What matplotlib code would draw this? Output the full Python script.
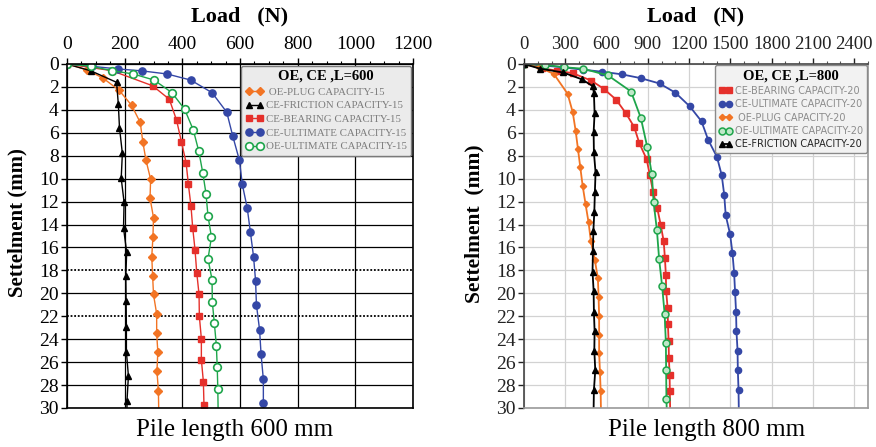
import numpy as np
import matplotlib
matplotlib.use("Agg")
import matplotlib.pyplot as plt
from matplotlib.ticker import MultipleLocator

plt.rcParams['font.family'] = ['Liberation Serif', 'DejaVu Serif']

# ---- pile length 600 mm (load in N, settlement in mm) ----
s_plug15 = [0, 0.5, 1.25, 2.3, 3.6, 5.1, 6.8, 8.4, 10.05, 11.7, 13.4, 15.1, 16.8, 18.5, 20.1, 21.8, 23.5, 25.1, 26.8, 28.5, 30]
p_plug15 = [0, 68, 126, 181, 224, 254, 263, 274, 290, 288, 300, 298, 294, 297, 300, 311, 311, 315, 312, 317, 318]

s_fric15 = [0, 0.6, 1.6, 3.5, 5.55, 7.8, 9.97, 12.06, 14.3, 16.4, 18.5, 20.7, 22.9, 25.1, 27.2, 29.4, 30]
p_fric15 = [0, 83, 172, 178, 182, 192, 188, 198, 196, 207, 204, 205, 206, 206, 213, 208, 208]

s_bear15 = [0, 0.58, 1.9, 3.08, 4.9, 6.8, 8.6, 10.5, 12.4, 14.3, 16.2, 18.2, 20.1, 22.0, 23.95, 25.8, 27.7, 29.7, 30]
p_bear15 = [0, 155, 297, 355, 380, 397, 413, 421, 430, 436, 444, 450, 458, 459, 466, 466, 473, 475, 476]

s_ceult15 = [0, 0.2, 0.43, 0.6, 0.87, 1.4, 2.5, 4.2, 6.3, 8.4, 10.5, 12.55, 14.65, 16.8, 18.9, 21.0, 23.2, 25.3, 27.5, 29.6, 30]
p_ceult15 = [0, 86, 176, 260, 347, 429, 503, 554, 575, 598, 608, 625, 636, 647, 654, 657, 668, 673, 681, 681, 681]

s_oeult15 = [0, 0.2, 0.58, 0.87, 1.4, 2.5, 3.95, 5.75, 7.6, 9.5, 11.3, 13.25, 15.1, 17.0, 18.8, 20.75, 22.6, 24.55, 26.4, 28.3, 30]
p_oeult15 = [0, 83, 155, 230, 302, 364, 408, 438, 457, 471, 482, 489, 501, 489, 503, 504, 511, 518, 521, 523, 524]

# ---- pile length 800 mm ----
s_bear20 = [0, 0.38, 0.58, 0.8, 1.45, 2.15, 3.1, 4.3, 5.5, 6.9, 8.3, 9.7, 11.2, 12.55, 14.0, 15.45, 16.9, 18.4, 19.8, 21.3, 22.7, 24.2, 25.6, 27.1, 28.5, 30]
p_bear20 = [0, 131, 241, 354, 489, 578, 669, 741, 801, 838, 891, 915, 939, 968, 993, 1015, 1024, 1031, 1033, 1044, 1046, 1051, 1053, 1058, 1060, 1062]

s_ceult20 = [0, 0.28, 0.5, 0.67, 0.9, 1.23, 1.7, 2.5, 3.7, 5.0, 6.6, 8.1, 9.7, 11.4, 13.2, 14.85, 16.5, 18.2, 19.9, 21.6, 23.3, 25.0, 26.7, 28.4, 30]
p_ceult20 = [0, 283, 427, 567, 710, 847, 985, 1100, 1205, 1290, 1338, 1402, 1437, 1455, 1466, 1498, 1515, 1527, 1534, 1541, 1544, 1552, 1554, 1559, 1561]

s_plug20 = [0, 0.3, 0.87, 2.6, 4.2, 5.8, 7.4, 9.0, 10.6, 12.2, 13.8, 15.45, 17.1, 18.7, 20.3, 22.0, 23.6, 25.2, 26.85, 28.5, 30]
p_plug20 = [0, 111, 217, 317, 354, 375, 392, 409, 426, 447, 469, 486, 515, 537, 542, 546, 546, 546, 552, 557, 559]

s_oeult20 = [0, 0.07, 0.28, 0.41, 1.0, 2.4, 4.7, 7.2, 9.6, 12.05, 14.5, 17.0, 19.4, 21.8, 24.3, 26.7, 29.2, 30]
p_oeult20 = [0, 150, 288, 429, 611, 778, 849, 895, 929, 942, 966, 982, 1004, 1022, 1031, 1033, 1035, 1037]

s_fric20 = [0, 0.41, 0.74, 1.33, 1.92, 2.5, 4.3, 5.95, 7.7, 9.45, 11.2, 12.9, 14.6, 16.35, 18.1, 19.8, 21.6, 23.3, 25.0, 26.7, 28.45, 30]
p_fric20 = [0, 117, 284, 419, 498, 508, 513, 506, 508, 520, 515, 511, 504, 501, 498, 506, 508, 513, 511, 518, 508, 506]

ORANGE = '#f27424'
RED = '#e5302b'
BLUE = '#3447a6'
GREEN = '#1ea54b'

fig = plt.figure(figsize=(8.76, 4.47), dpi=100)
ax1 = fig.add_axes([67/876, 1-408/447, 346/876, 344/447])
ax2 = fig.add_axes([524/876, 1-408/447, 344/876, 344/447])


def curve(ax, p, s, lw=1.0, **kw):
    # the 30 mm point only carries the line down to the bottom edge
    n = len(p) - 1 if s[-1] == 30 else len(p)
    return ax.plot(p, s, lw=lw, markevery=list(range(n)), **kw)[0]


# ---------------- left: L = 600 ----------------
h1 = [
    curve(ax1, p_plug15, s_plug15, color=ORANGE, marker='D', markersize=4.2, label=' OE-PLUG CAPACITY-15'),
    curve(ax1, p_fric15, s_fric15, color='black', marker='^', markersize=5, label='CE-FRICTION CAPACITY-15'),
    curve(ax1, p_bear15, s_bear15, color=RED, marker='s', markersize=5, label='CE-BEARING CAPACITY-15'),
    curve(ax1, p_ceult15, s_ceult15, color=BLUE, marker='o', markersize=5.2, label='CE-ULTIMATE CAPACITY-15'),
    curve(ax1, p_oeult15, s_oeult15, color=GREEN, marker='o', markersize=5.5, mfc='white', mew=1.2,
          label='OE-ULTIMATE CAPACITY-15'),
]

ax1.set_xlim(0, 1200)
ax1.set_ylim(30, 0)
ax1.xaxis.tick_top()
ax1.xaxis.set_major_locator(MultipleLocator(200))
ax1.xaxis.set_minor_locator(MultipleLocator(50))
ax1.yaxis.set_major_locator(MultipleLocator(2))
ax1.tick_params(axis='x', which='major', length=4, width=1, pad=4, labelsize=14)
ax1.tick_params(axis='x', which='minor', length=2.5, width=0.8)
ax1.tick_params(axis='y', length=4, width=1, pad=2, labelsize=14)
ax1.grid(True, which='major', color='black', lw=0.9)
for gl, v in zip(ax1.get_ygridlines(), ax1.get_yticks()):
    if v in (18, 22):
        gl.set_linestyle((0, (1, 1)))
        gl.set_linewidth(1.3)
ax1.set_axisbelow(True)
for sp in ax1.spines.values():
    sp.set_linewidth(1.2)

leg1 = ax1.legend(handles=h1, title='OE, CE ,L=600', loc='upper right', bbox_to_anchor=(1.0, 1.0),
                  borderaxespad=0.15, numpoints=2, handlelength=1.6, handletextpad=0.3,
                  labelspacing=0.38, fancybox=True, framealpha=1, facecolor='#ebebeb',
                  edgecolor='#7a7a7a', labelcolor='#7c7c7c', prop={'size': 7.8},
                  title_fontproperties={'size': 10.5, 'weight': 'bold'})
leg1.get_frame().set_linewidth(1.0)

# ---------------- right: L = 800 ----------------
h2 = [
    curve(ax2, p_bear20, s_bear20, color=RED, marker='s', markersize=4.2, lw=1.3, label='CE-BEARING CAPACITY-20'),
    curve(ax2, p_ceult20, s_ceult20, color=BLUE, marker='o', markersize=4.5, lw=1.3, label='CE-ULTIMATE CAPACITY-20'),
    curve(ax2, p_plug20, s_plug20, color=ORANGE, marker='D', markersize=3.2, lw=1.3, label=' OE-PLUG CAPACITY-20'),
    curve(ax2, p_oeult20, s_oeult20, color=GREEN, marker='o', markersize=5, mfc='#bfe8c8', mew=1.1, lw=1.3,
          label='OE-ULTIMATE CAPACITY-20'),
    curve(ax2, p_fric20, s_fric20, color='black', marker='^', markersize=4.2, lw=1.3, label='CE-FRICTION CAPACITY-20'),
]

ax2.set_xlim(0, 2500)
ax2.set_ylim(30, 0)
ax2.xaxis.tick_top()
ax2.set_xticks(np.arange(0, 2401, 300))
ax2.xaxis.set_minor_locator(MultipleLocator(100))
ax2.yaxis.set_major_locator(MultipleLocator(2))
ax2.tick_params(axis='x', which='major', length=4, width=1, pad=4, labelsize=13.5, colors='#222222')
ax2.tick_params(axis='x', which='minor', length=2.5, width=0.8, colors='#555555')
ax2.tick_params(axis='y', length=4, width=1, pad=2, labelsize=14, colors='#222222')
ax2.grid(True, which='major', color='#d2d2d2', lw=0.9)
ax2.set_axisbelow(True)
ax2.spines['left'].set_color('#444444')
ax2.spines['top'].set_color('#444444')
ax2.spines['right'].set_color('#9a9a9a')
ax2.spines['bottom'].set_color('#9a9a9a')
for sp in ax2.spines.values():
    sp.set_linewidth(1.2)

leg2 = ax2.legend(handles=h2, title='OE, CE ,L=800', loc='upper right', bbox_to_anchor=(1.0, 1.0),
                  borderaxespad=0.15, numpoints=2, handlelength=1.3, handletextpad=0.3,
                  labelspacing=0.35, fancybox=True, framealpha=1, facecolor='#f2f2f2',
                  edgecolor='#8a8a8a', labelcolor='#8c8c8c',
                  prop={'family': ['Liberation Sans Narrow', 'DejaVu Sans'], 'size': 7},
                  title_fontproperties={'size': 10.5, 'weight': 'bold'})
leg2.get_frame().set_linewidth(1.0)
leg2.get_texts()[-1].set_color('#222222')

# ---------------- titles and captions ----------------
fig.text(240/876, 1-16/447, 'Load   (N)', ha='center', va='center', fontsize=16, fontweight='bold')
fig.text(696/876, 1-16/447, 'Load   (N)', ha='center', va='center', fontsize=16, fontweight='bold')
fig.text(17/876, 1-223/447, 'Settelment (mm)', ha='center', va='center', rotation=90,
         fontsize=15, fontweight='bold')
fig.text(474/876, 1-224/447, 'Settelment  (mm)', ha='center', va='center', rotation=90,
         fontsize=15.5, fontweight='bold')
fig.text(235/876, 1-430/447, 'Pile length 600 mm', ha='center', va='center', fontsize=18)
fig.text(707/876, 1-430/447, 'Pile length 800 mm', ha='center', va='center', fontsize=18)

fig.savefig('out.png', dpi=100)
